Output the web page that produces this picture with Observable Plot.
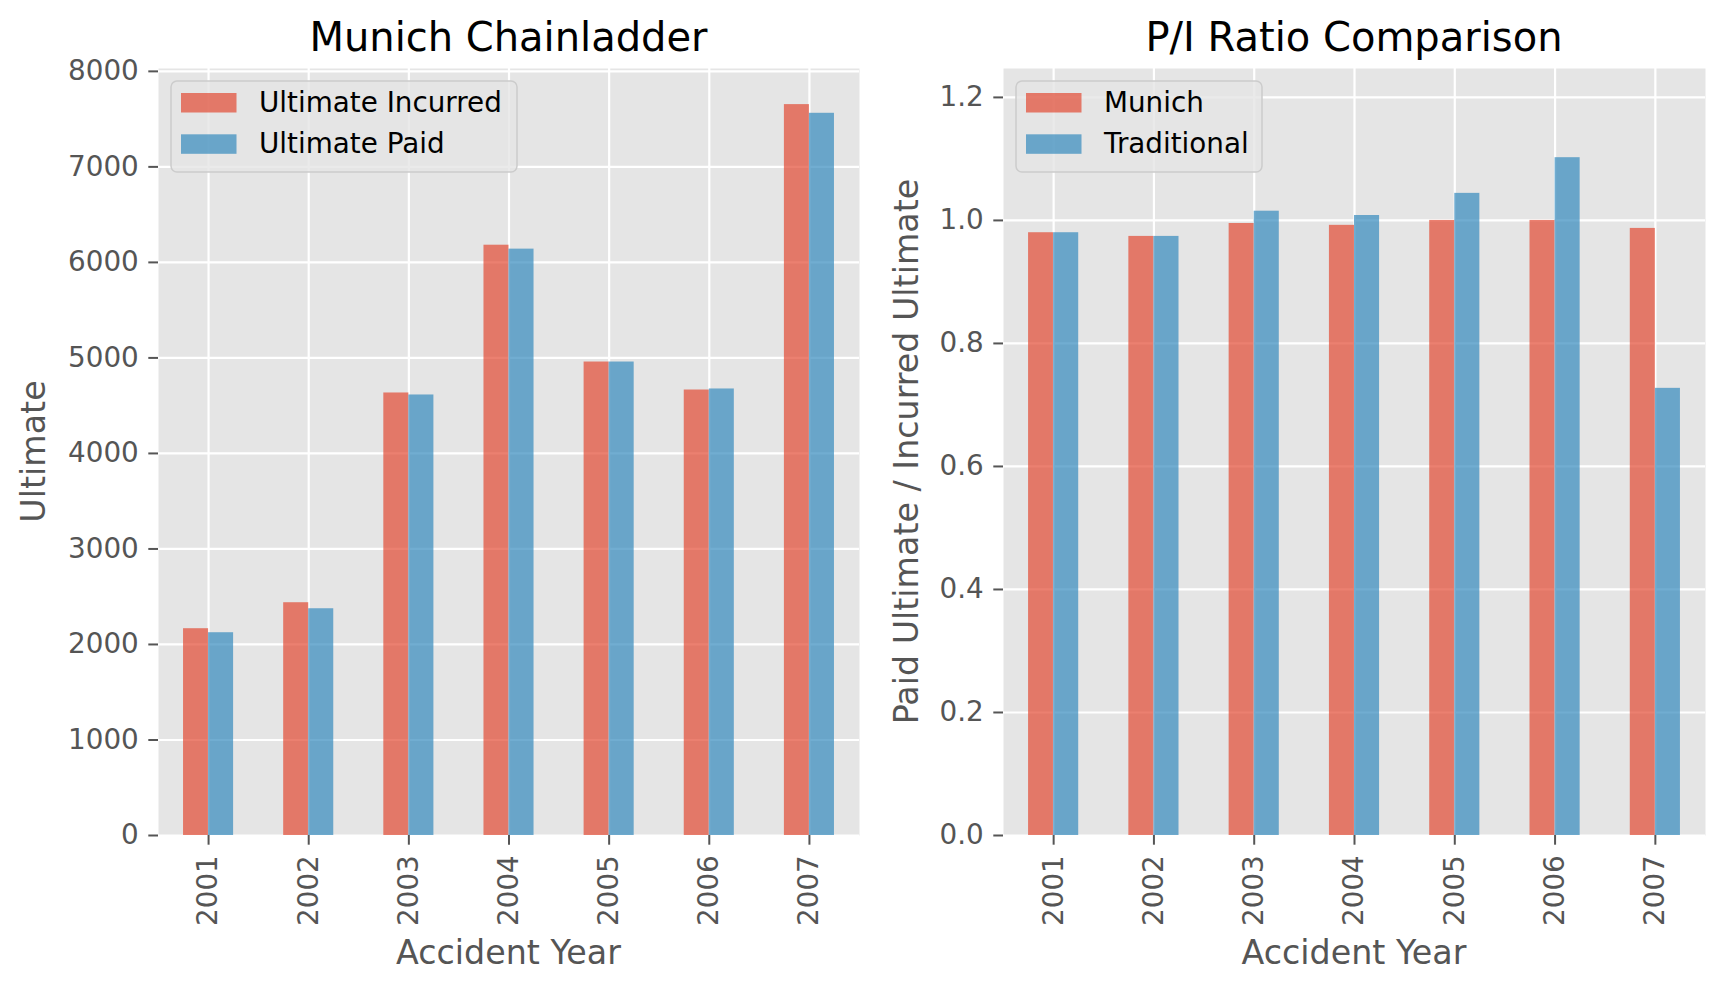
<!DOCTYPE html>
<html>
<head>
<meta charset="utf-8">
<script src="https://cdn.jsdelivr.net/npm/d3@7"></script>
<script src="https://cdn.jsdelivr.net/npm/@observablehq/plot@0.6"></script>
<style>
  body { margin: 0; background: #fff; font-family: "DejaVu Sans", sans-serif; }
  #root { position: relative; width: 1725px; height: 992px; overflow: hidden; background: #fff; }
  #root > svg { position: absolute; top: 0; }
  #overlay { position: absolute; left: 0; top: 0; pointer-events: none; }
</style>
</head>
<body>
<div id="root"></div>
<script>
// ---- data ----
const years = ["2001", "2002", "2003", "2004", "2005", "2006", "2007"];
const ultimateIncurred = [2165, 2437, 4633, 6180, 4957, 4664, 7652];
const ultimatePaid     = [2123, 2374, 4612, 6139, 4957, 4675, 7561];
const munichRatio      = [0.980, 0.974, 0.995, 0.992, 1.000, 1.000, 0.987];
const traditionalRatio = [0.980, 0.974, 1.015, 1.008, 1.044, 1.102, 0.727];
const leftTicks  = [0, 1000, 2000, 3000, 4000, 5000, 6000, 7000, 8000];
const rightTicks = [0, 0.2, 0.4, 0.6, 0.8, 1.0, 1.2];
const leftLegend  = ["Ultimate Incurred", "Ultimate Paid"];
const rightLegend = ["Munich", "Traditional"];

const RED = "#E24A33", BLUE = "#348ABD";
const FONT = "DejaVu Sans";

function panel({width, marginLeft, marginRight, seriesA, seriesB, yDomain, yTicks, yFormat}) {
  const idx = d3.range(years.length);
  const rows = idx.map(i => ({i, year: years[i], a: seriesA[i], b: seriesB[i]}));
  return Plot.plot({
    width, height: 992,
    marginLeft, marginRight, marginTop: 68, marginBottom: 157,
    style: {fontFamily: FONT, background: "transparent", overflow: "visible"},
    x: {domain: [-0.5, years.length - 0.5]},
    y: {domain: yDomain},
    marks: [
      Plot.frame({fill: "#E5E5E5", stroke: null}),
      Plot.gridY(yTicks, {stroke: "#fff", strokeOpacity: 1, strokeWidth: 2.2}),
      Plot.gridX(idx, {stroke: "#fff", strokeOpacity: 1, strokeWidth: 2.2}),
      Plot.rect(rows, {x1: d => d.i - 0.25, x2: d => d.i, y1: 0, y2: "a", fill: RED, fillOpacity: 0.7}),
      Plot.rect(rows, {x1: d => d.i, x2: d => d.i + 0.25, y1: 0, y2: "b", fill: BLUE, fillOpacity: 0.7}),
      Plot.axisY(yTicks, {tickFormat: yFormat, tickSize: 9.7, tickPadding: 10, fontSize: 27.8,
        color: "#555555", strokeWidth: 2, label: null}),
      Plot.axisX(idx, {tickFormat: i => years[i], tickRotate: -90, tickSize: 9.7, tickPadding: 10,
        fontSize: 27.8, color: "#555555", strokeWidth: 2, label: null})
    ]
  });
}

const root = document.getElementById("root");

const left = panel({
  width: 880, marginLeft: 158, marginRight: 21,
  seriesA: ultimateIncurred, seriesB: ultimatePaid,
  yDomain: [0, 8030], yTicks: leftTicks, yFormat: d3.format("d")
});
left.style.left = "0px";
root.appendChild(left);

const right = panel({
  width: 855, marginLeft: 133, marginRight: 20,
  seriesA: munichRatio, seriesB: traditionalRatio,
  yDomain: [0, 1.247], yTicks: rightTicks, yFormat: d3.format(".1f")
});
right.style.left = "870px";
root.appendChild(right);

// ---- overlay: titles, axis labels, legends ----
const ov = d3.select(root).append("svg").attr("id", "overlay")
  .attr("width", 1725).attr("height", 992)
  .style("font-family", FONT);

function texts(cx, titleText, yLabel, yLabelX) {
  ov.append("text").attr("x", cx).attr("y", 51).attr("text-anchor", "middle")
    .attr("font-size", 40).attr("fill", "#000").text(titleText);
  ov.append("text").attr("x", cx).attr("y", 964).attr("text-anchor", "middle")
    .attr("font-size", 33.3).attr("fill", "#555555").text("Accident Year");
  ov.append("text").attr("transform", `translate(${yLabelX},451.5) rotate(-90)`)
    .attr("text-anchor", "middle").attr("font-size", 33.3).attr("fill", "#555555").text(yLabel);
}
texts(508.5, "Munich Chainladder", "Ultimate", 45);
texts(1354, "P/I Ratio Comparison", "Paid Ultimate / Incurred Ultimate", 918);

function legend(x0, w, labels) {
  const g = ov.append("g");
  g.append("rect").attr("x", x0).attr("y", 81).attr("width", w).attr("height", 91)
    .attr("rx", 6).attr("fill", "#E5E5E5").attr("fill-opacity", 0.8)
    .attr("stroke", "#CCCCCC").attr("stroke-width", 1.5);
  const colors = [RED, BLUE];
  labels.forEach((lab, k) => {
    g.append("rect").attr("x", x0 + 10).attr("y", 93 + k * 41.3).attr("width", 55.5).attr("height", 19.5)
      .attr("fill", colors[k]).attr("fill-opacity", 0.7);
    g.append("text").attr("x", x0 + 88).attr("y", 112 + k * 41.3)
      .attr("font-size", 27.8).attr("fill", "#000").text(lab);
  });
}
legend(171, 346, leftLegend);
legend(1016, 246, rightLegend);
</script>
</body>
</html>
